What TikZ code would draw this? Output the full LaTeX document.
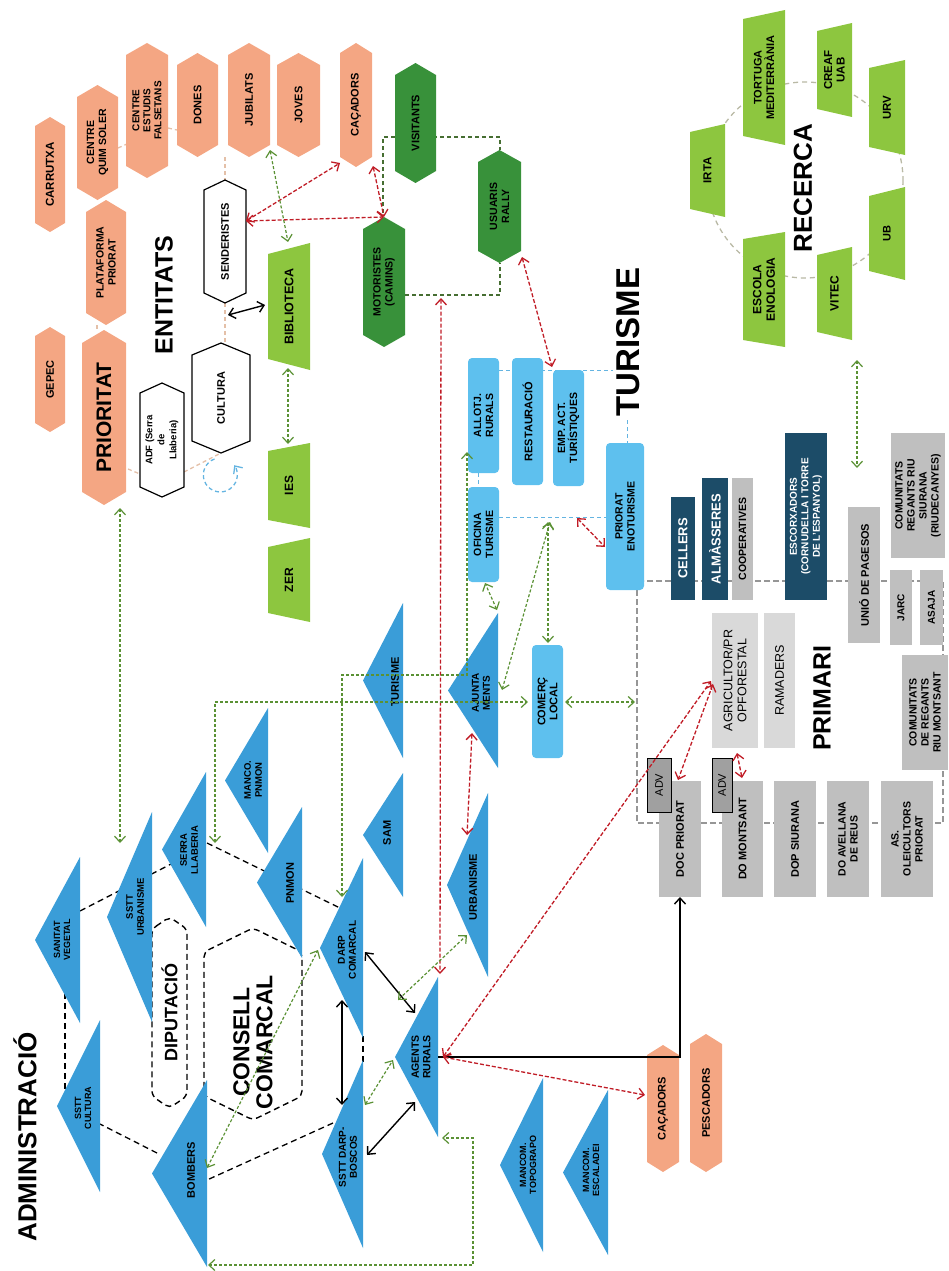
\documentclass[tikz,border=0pt]{standalone}
\usepackage{fontspec}
\setmainfont{Liberation Sans}
\usetikzlibrary{arrows.meta}
\definecolor{orng}{RGB}{244,166,131}
\definecolor{dgrn}{RGB}{56,145,58}
\definecolor{lgrn}{RGB}{141,198,63}
\definecolor{tblue}{RGB}{58,157,216}
\definecolor{ltblue}{RGB}{94,192,238}
\definecolor{navyb}{RGB}{28,76,104}
\definecolor{gry}{RGB}{191,191,191}
\definecolor{ltgry}{RGB}{217,217,217}
\definecolor{advg}{RGB}{160,160,160}
\definecolor{rdc}{RGB}{192,28,38}
\definecolor{grc}{RGB}{90,145,52}
\definecolor{dgc}{RGB}{70,110,50}
\definecolor{tanc}{RGB}{228,192,168}
\definecolor{blc}{RGB}{100,180,225}
\definecolor{gyc}{RGB}{150,150,150}
\definecolor{gcc}{RGB}{185,185,165}

% hexagon with pointed top and bottom: name, cx, cy, w, h, tip, shape style, text style, text
\newcommand\HexV[9]{%
  \path[#7] ({#2-#4/2},{#3-#5/2+#6}) -- (#2,{#3-#5/2}) -- ({#2+#4/2},{#3-#5/2+#6}) -- ({#2+#4/2},{#3+#5/2-#6}) -- (#2,{#3+#5/2}) -- ({#2-#4/2},{#3+#5/2-#6}) -- cycle;
  \node[anc, minimum width=#4, minimum height=#5] (#1) at (#2,#3) {};
  \node[lbl,#8] (#1t) at (#2,#3) {#9};}
% rectangle: name, x1, y1, x2, y2, shape style, text style, text
\newcommand\RectV[8]{%
  \path[#6] (#2,#3) rectangle (#4,#5);
  \node[anc, minimum width={#4-#2}, minimum height={#5-#3}] (#1) at ({(#2+#4)/2},{(#3+#5)/2}) {};
  \node[lbl,#7] (#1t) at ({(#2+#4)/2},{(#3+#5)/2}) {#8};}
% trapezoid, right edge full: name, x1, x2, ytop, ybottom, inset, shape style, text style, text
\newcommand\TrapV[9]{%
  \path[#7] (#2,{#4+#6}) -- (#3,#4) -- (#3,#5) -- (#2,{#5-#6}) -- cycle;
  \node[anc, minimum width={#3-#2}, minimum height={#5-#4}] (#1) at ({(#2+#3)/2},{(#4+#5)/2}) {};
  \node[lbl,#8] (#1t) at ({(#2+#3)/2},{(#4+#5)/2}) {#9};}
% triangle pointing left: name, apex x, right x, top y, bottom y, text x, text y, text style, text
\newcommand\TriL[9]{%
  \path[fill=tblue] (#3,#4) -- (#2,{(#4+#5)/2}) -- (#3,#5) -- cycle;
  \node[anc, minimum width={#3-#2}, minimum height={#5-#4}] (#1) at ({(#2+#3)/2},{(#4+#5)/2}) {};
  \node[lbl,#8] (#1t) at (#6,#7) {#9};}

\begin{document}
\begin{tikzpicture}[x=1pt,y=-1pt,
  >={Straight Barb[length=6pt,width=11pt]},
  lbl/.style={rotate=90, align=center, inner sep=0pt, font=\bfseries\fontsize{11}{12}\selectfont},
  fs/.style args={#1/#2}{font=\bfseries\fontsize{#1}{#2}\selectfont},
  rg/.style args={#1/#2}{font=\fontsize{#1}{#2}\selectfont},
  anc/.style={inner sep=0pt, outer sep=0pt},
  wht/.style={fill=white, draw=black, line width=1.2pt},
  turbox/.style={fill=ltblue, rounded corners=4pt},
  advbox/.style={fill=advg, draw=black, line width=0.8pt},
  ring/.style={draw=black, line width=1.3pt, dash pattern=on 6pt off 4pt},
  blk/.style={draw=black, line width=1.4pt, <->},
  rd/.style={draw=rdc, line width=1.3pt, dash pattern=on 4pt off 2pt, <->},
  gr/.style={draw=grc, line width=1.2pt, dash pattern=on 3pt off 2pt, <->},
  dg/.style={draw=dgc, line width=1.2pt, dash pattern=on 4pt off 3pt},
  tn/.style={draw=tanc, line width=1.3pt, dash pattern=on 4pt off 3pt},
  bld/.style={draw=blc, line width=1pt, dash pattern=on 4pt off 3pt},
  gyd/.style={draw=gyc, line width=1.3pt, dash pattern=on 6pt off 3pt},
  gcirc/.style={draw=gcc, line width=1.3pt, dash pattern=on 5pt off 4pt},
  dhex/.style={draw=black, line width=1.4pt, dash pattern=on 6pt off 4pt, rounded corners=5pt}
]
\useasboundingbox (0,0) rectangle (949,1271);

% ---------- background connectors ----------
\draw[gcirc] (805,180) circle[radius=98];
\draw[gyd] (637,590) -- (637,823) -- (943,823) -- (943,581) -- (644,581);
\draw[bld] (499,370) -- (613,370);
\draw[bld] (627,420) -- (627,443);
\draw[bld] (478,473) -- (478,487);
\draw[bld] (499,517) -- (606,517);

\draw[ring] (80,911) -- (175,862);
\draw[ring] (207,843) -- (340,908);
\draw[ring] (363,1036) -- (363,1062);
\draw[ring] (333,1123) -- (207,1180);
\draw[ring] (157,1153) -- (100,1124);
\draw[ring] (65,993) -- (65,1090);

\draw[tn] (118,148) -- (127,144);
\draw[tn] (168,128) -- (177,130);
\draw[tn] (225,157) -- (225,180);
\draw[tn] (225,303) -- (225,343);
\draw[tn] (97,325) -- (97,331);
\draw[tn] (128,469) -- (140,474);
\draw[tn] (184,472) -- (221,453);

\draw[dg] (383,213) -- (383,137) -- (500,137) -- (500,150);
\draw[dg] (405,295) -- (500,295) -- (500,263);

% ---------- ENTITATS ----------
\HexV{carrutxa}{50}{174.5}{30}{115}{9}{fill=orng}{fs=11.5/12}{CARRUTXA}
\HexV{gepec}{50}{379.5}{30}{105}{9}{fill=orng}{fs=11/12}{GEPEC}
\HexV{quim}{97.5}{142.5}{41}{115}{12}{fill=orng}{fs=10.5/12}{CENTRE\\QUIM SOLER}
\HexV{plataforma}{106}{262.5}{40}{125}{12}{fill=orng}{fs=10.5/12}{PLATAFORMA\\PRIORAT}
\HexV{prioritat}{104}{417.5}{44}{175}{13}{fill=orng}{fs=21/22}{PRIORITAT}
\HexV{estudis}{147}{110.5}{42}{135}{12}{fill=orng}{fs=10/11}{CENTRE\\ESTUDIS\\FALSETANS}
\HexV{dones}{197.5}{105}{41}{104}{12}{fill=orng}{}{DONES}
\HexV{jubilats}{249}{100}{42}{114}{12}{fill=orng}{}{JUBILATS}
\HexV{joves}{298.5}{105}{43}{104}{12}{fill=orng}{}{JOVES}
\HexV{cacadorsT}{356}{105}{32}{124}{10}{fill=orng}{}{CAÇADORS}
\HexV{cacadorsB}{663}{1108.5}{32}{127}{10}{fill=orng}{}{CAÇADORS}
\HexV{pescadors}{706}{1103}{32}{138}{10}{fill=orng}{}{PESCADORS}

\HexV{visitants}{415.5}{123}{41}{120}{12}{fill=dgrn}{}{VISITANTS}
\HexV{motoristes}{384}{282}{42}{130}{12}{fill=dgrn}{fs=10.5/12}{MOTORISTES\\(CAMINS)}
\HexV{usuaris}{499.5}{206.5}{43}{113}{12}{fill=dgrn}{fs=10.5/12}{USUARIS\\RALLY}

\HexV{senderistes}{225}{241.5}{42}{123}{10}{wht}{}{SENDERISTES}
\HexV{cultura}{221}{398}{58}{110}{12}{wht}{}{CULTURA}
\HexV{adf}{162}{440}{44}{114}{10}{wht}{fs=9.5/12}{ADF (Serra\\de\\Llaberia)}

\TrapV{biblioteca}{268}{310}{243}{370}{11}{fill=lgrn}{fs=12.5/14}{BIBLIOTECA}
\TrapV{ies}{268}{310}{443}{528}{8}{fill=lgrn}{fs=12/13}{IES}
\TrapV{zer}{268}{310}{538}{622}{9}{fill=lgrn}{fs=12/13}{ZER}

% ---------- RECERCA ----------
\TrapV{irta}{690}{725}{124}{217}{8}{fill=lgrn}{fs=11.5/13}{IRTA}
\TrapV{tortuga}{743}{785}{10}{145}{9}{fill=lgrn}{fs=11/12.5}{TORTUGA\\MEDITERRÀNIA}
\TrapV{creaf}{817}{852}{23}{117}{8}{fill=lgrn}{fs=11.5/12.5}{CREAF\\UAB}
\TrapV{urv}{869}{905}{60}{155}{8}{fill=lgrn}{fs=11.5/13}{URV}
\TrapV{ub}{869}{905}{187}{280}{9}{fill=lgrn}{fs=11/13}{UB}
\TrapV{vitec}{817}{852}{247}{340}{8}{fill=lgrn}{fs=12/13}{VITEC}
\TrapV{escola}{743}{785}{232}{347}{7}{fill=lgrn}{fs=12/13.5}{ESCOLA\\ENOLOGIA}

% ---------- TURISME ----------
\RectV{allotj}{468}{358}{499}{473}{turbox}{fs=10.5/12}{ALLOTJ.\\RURALS}
\RectV{restauracio}{512}{358}{543}{485}{turbox}{}{RESTAURACIÓ}
\RectV{empact}{553}{370}{584}{486}{turbox}{fs=10.5/12}{EMP. ACT.\\TURÍSTIQUES}
\RectV{oficina}{468}{487}{499}{582}{turbox}{fs=10.5/12}{OFICINA\\TURISME}
\RectV{enoturisme}{606}{443}{644}{590}{turbox}{fs=10.5/12}{PRIORAT\\ENOTURISME}
\RectV{comerc}{532}{645}{563}{758}{turbox}{fs=11/12}{COMERÇ\\LOCAL}

% ---------- PRIMARI ----------
\RectV{cellers}{671}{497}{695}{600}{fill=navyb}{fs=13/14,text=white}{CELLERS}
\RectV{almasseres}{702}{478}{728}{600}{fill=navyb}{fs=13/14,text=white}{ALMÀSSERES}
\RectV{cooperatives}{732}{478}{753}{600}{fill=gry}{fs=10.5/12}{COOPERATIVES}
\RectV{escorxadors}{785}{433}{827}{600}{fill=navyb}{fs=10/11.5,text=white}{ESCORXADORS\\(CORNUDELLA I TORRE\\DE L'ESPANYOL)}
\RectV{unio}{848}{507}{880}{643}{fill=gry}{}{UNIÓ DE PAGESOS}
\RectV{siurana}{891}{433}{945}{558}{fill=gry}{fs=10.5/12}{COMUNITATS\\REGANTS RIU\\SIURANA\\(RIUDECANYES)}
\RectV{jarc}{890}{570}{912}{645}{fill=gry}{fs=10/11}{JARC}
\RectV{asaja}{920}{570}{943}{645}{fill=gry}{fs=10/11}{ASAJA}
\RectV{montsantreg}{902}{655}{948}{770}{fill=gry}{fs=10.5/12}{COMUNITATS\\DE REGANTS\\RIU MONTSANT}
\RectV{agricultor}{712}{613}{758}{748}{fill=ltgry}{rg=12.5/14}{AGRICULTOR/PR\\OPFORESTAL}
\RectV{ramaders}{764}{613}{795}{748}{fill=ltgry}{rg=12.5/14}{RAMADERS}
\RectV{doc}{659}{781}{701}{897}{fill=gry}{}{DOC PRIORAT}
\RectV{domontsant}{722}{781}{763}{897}{fill=gry}{}{DO MONTSANT}
\RectV{dop}{774}{781}{816}{897}{fill=gry}{}{DOP SIURANA}
\RectV{avellana}{827}{781}{869}{897}{fill=gry}{fs=10.5/12}{DO AVELLANA\\DE REUS}
\RectV{oleicultors}{881}{781}{933}{897}{fill=gry}{fs=10.5/12}{AS.\\OLEICULTORS\\PRIORAT}
\RectV{adv1}{647}{758}{671}{812}{advbox}{rg=11/12}{ADV}
\RectV{adv2}{712}{758}{732}{812}{advbox}{rg=11/12}{ADV}

% ---------- ADMINISTRACIO ----------
\HexV{diputacio}{169.5}{1012.5}{35}{191}{12}{dhex}{fs=18/19}{DIPUTACIÓ}
\HexV{consell}{253}{1024}{98}{192}{24}{dhex}{fs=23/23}{}
\node[lbl,fs=23/23] (consellT) at (253,1042) {CONSELL\\COMARCAL};

\TriL{sanitat}{35}{80}{857}{1023}{62}{940}{fs=9/10}{SANITAT\\VEGETAL}
\TriL{ssttcult}{57}{100}{1020}{1192}{83}{1108}{fs=9/10}{SSTT\\CULTURA}
\TriL{ssttur}{107}{152}{812}{1022}{135}{907}{fs=9.5/11}{SSTT\\URBANISME}
\TriL{serra}{162}{206}{772}{927}{189}{850}{fs=9.5/11}{SERRA\\LLABERIA}
\TriL{mancopnmon}{225}{268}{708}{853}{253}{780}{fs=9.5/11}{MANCO.\\PNMON}
\TriL{pnmon}{257}{302}{807}{958}{290}{883}{}{PNMON}
\TriL{turismeA}{363}{403}{603}{758}{395}{682}{}{TURISME}
\TriL{sam}{363}{403}{773}{897}{387}{833}{}{SAM}
\TriL{ajunt}{448}{498}{613}{768}{481}{693}{fs=10/11}{AJUNTA\\MENTS}
\TriL{urbanisme}{447}{488}{793}{977}{473}{887}{}{URBANISME}
\TriL{darp}{320}{363}{858}{1038}{347}{950}{fs=10/11}{DARP\\COMARCAL}
\TriL{agents}{395}{438}{977}{1137}{421}{1057}{fs=10.5/11.5}{AGENTS\\RURALS}
\TriL{ssttdarp}{322}{363}{1060}{1248}{348}{1157}{fs=10/11}{SSTT DARP-\\BOSCOS}
\TriL{bombers}{152}{207}{1080}{1267}{191}{1170}{}{BOMBERS}
\TriL{topog}{500}{543}{1078}{1252}{528}{1165}{fs=9/10}{MANCOM.\\TOPOGRAPO}
\TriL{escaladei}{563}{608}{1090}{1255}{591}{1170}{fs=9/10}{MANCOM.\\ESCALADEI}

% ---------- titles ----------
\node[lbl,fs=25/26] (entitats) at (164,295) {ENTITATS};
\node[lbl,fs=33/34] (turismeT) at (628,342) {TURISME};
\node[lbl,fs=26/27] (recerca) at (803,188) {RECERCA};
\node[lbl,fs=25/26] (primari) at (822,698) {PRIMARI};
\node[lbl,fs=26/27] (admin) at (25,1137) {ADMINISTRACIÓ};

% ---------- foreground connectors ----------
\draw[bld, line width=1.3pt, ->] (214.5,459) arc[start angle=-110, end angle=-395, radius=17];

\draw[blk] (365,952) -- (415,1013);
\draw[blk] (342,1000) -- (342,1105);
\draw[blk] (367,1155) -- (415,1102);
\draw[blk] (228,315) -- (265,305);
\draw[blk, <-] (doc.south) |- (agents.east |- 0,1057);

\draw[rd] (senderistes.east |- 0,221) -- (340,163);
\draw[rd] (senderistes.east |- 0,221) -- (motoristes.north);
\draw[rd] (373,166) -- (motoristes.north);
\draw[rd] (441,298) -- (440,974);
\draw[rd] (472,733) -- (467,835);
\draw[rd] (443,1057) -- (711,681);
\draw[rd] (443,1057) -- (645,1095);
\draw[rd] (713,684) -- (678,780);
\draw[rd] (737,753) -- (742,778);
\draw[rd] (577,518) -- (605,547);
\draw[rd] (522,257) -- (552,367);

\draw[gr] (120,508) -- (120,843);
\draw[gr] (270,150) -- (288,242);
\draw[gr] (288,368) -- (288,444);
\draw[gr] (342,897) -- (342,675) -- (467,675) -- (467,452);
\draw[gr] (215,843) -- (215,702) -- (528,702);
\draw[gr] (565,702) -- (635,702);
\draw[gr] (497,610) -- (485,583);
\draw[gr] (502,690) -- (550,522);
\draw[gr] (548,522) -- (548,643);
\draw[gr] (207,1168) -- (318,950);
\draw[gr] (365,1105) -- (393,1060);
\draw[gr] (398,1000) -- (467,935);
\draw[gr] (208,1265) -- (473,1265) -- (473,1138) -- (442,1138);
\draw[gr] (857,360) -- (857,468);
\end{tikzpicture}
\end{document}
